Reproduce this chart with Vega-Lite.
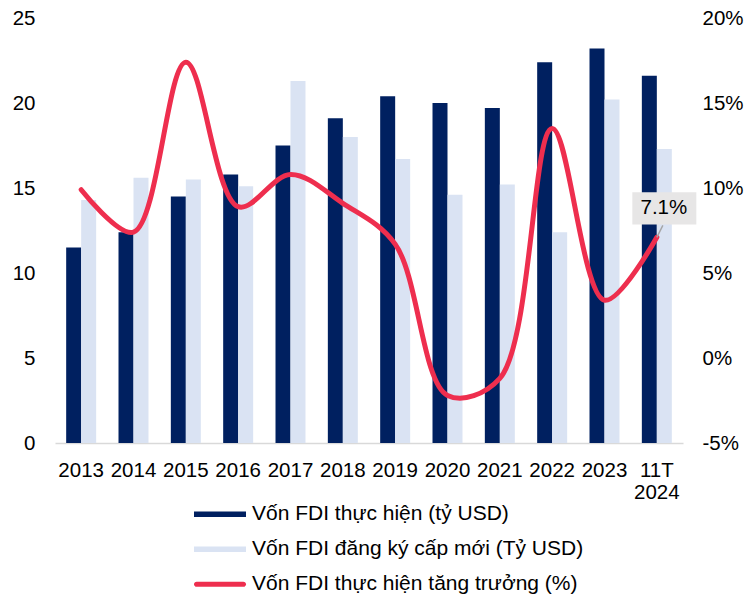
{
  "$schema": "https://vega.github.io/schema/vega-lite/v6.json",
  "width": 628,
  "height": 425,
  "autosize": {"type": "none"},
  "padding": {"left": 55, "top": 18, "right": 63, "bottom": 153},
  "background": "white",
  "config": {
    "font": "Liberation Sans",
    "view": {"stroke": null},
    "axis": {"labelFont": "Liberation Sans", "labelFontSize": 20.5, "labelColor": "#000000", "grid": false, "ticks": false, "domain": false}
  },
  "datasets": {
    "bars": [
      {"year": "2013", "series": "Vốn FDI thực hiện (tỷ USD)", "value": 11.5},
      {"year": "2013", "series": "Vốn FDI đăng ký cấp mới (Tỷ USD)", "value": 14.3},
      {"year": "2014", "series": "Vốn FDI thực hiện (tỷ USD)", "value": 12.4},
      {"year": "2014", "series": "Vốn FDI đăng ký cấp mới (Tỷ USD)", "value": 15.6},
      {"year": "2015", "series": "Vốn FDI thực hiện (tỷ USD)", "value": 14.5},
      {"year": "2015", "series": "Vốn FDI đăng ký cấp mới (Tỷ USD)", "value": 15.5},
      {"year": "2016", "series": "Vốn FDI thực hiện (tỷ USD)", "value": 15.8},
      {"year": "2016", "series": "Vốn FDI đăng ký cấp mới (Tỷ USD)", "value": 15.1},
      {"year": "2017", "series": "Vốn FDI thực hiện (tỷ USD)", "value": 17.5},
      {"year": "2017", "series": "Vốn FDI đăng ký cấp mới (Tỷ USD)", "value": 21.3},
      {"year": "2018", "series": "Vốn FDI thực hiện (tỷ USD)", "value": 19.1},
      {"year": "2018", "series": "Vốn FDI đăng ký cấp mới (Tỷ USD)", "value": 18.0},
      {"year": "2019", "series": "Vốn FDI thực hiện (tỷ USD)", "value": 20.4},
      {"year": "2019", "series": "Vốn FDI đăng ký cấp mới (Tỷ USD)", "value": 16.7},
      {"year": "2020", "series": "Vốn FDI thực hiện (tỷ USD)", "value": 20.0},
      {"year": "2020", "series": "Vốn FDI đăng ký cấp mới (Tỷ USD)", "value": 14.6},
      {"year": "2021", "series": "Vốn FDI thực hiện (tỷ USD)", "value": 19.7},
      {"year": "2021", "series": "Vốn FDI đăng ký cấp mới (Tỷ USD)", "value": 15.2},
      {"year": "2022", "series": "Vốn FDI thực hiện (tỷ USD)", "value": 22.4},
      {"year": "2022", "series": "Vốn FDI đăng ký cấp mới (Tỷ USD)", "value": 12.4},
      {"year": "2023", "series": "Vốn FDI thực hiện (tỷ USD)", "value": 23.2},
      {"year": "2023", "series": "Vốn FDI đăng ký cấp mới (Tỷ USD)", "value": 20.2},
      {"year": "11T 2024", "series": "Vốn FDI thực hiện (tỷ USD)", "value": 21.6},
      {"year": "11T 2024", "series": "Vốn FDI đăng ký cấp mới (Tỷ USD)", "value": 17.3}
    ],
    "growth": [
      {"year": "2013", "growth": 0.099},
      {"year": "2014", "growth": 0.074},
      {"year": "2015", "growth": 0.174},
      {"year": "2016", "growth": 0.089},
      {"year": "2017", "growth": 0.108},
      {"year": "2018", "growth": 0.091},
      {"year": "2019", "growth": 0.067},
      {"year": "2020", "growth": -0.022},
      {"year": "2021", "growth": -0.012},
      {"year": "2022", "growth": 0.135},
      {"year": "2023", "growth": 0.034},
      {"year": "11T 2024", "growth": 0.071}
    ]
  },
  "layer": [
    {
      "data": {"name": "bars"},
      "mark": {"type": "bar"},
      "encoding": {
        "x": {
          "field": "year", "type": "nominal", "sort": null,
          "scale": {"domain": ["2013","2014","2015","2016","2017","2018","2019","2020","2021","2022","2023","11T 2024"], "paddingInner": 0.427, "paddingOuter": 0.2135},
          "axis": {"title": null, "labelAngle": 0, "domain": true, "domainColor": "#d9d9d9", "domainWidth": 1.5, "labelPadding": 17, "labelBaseline": "top", "labelLineHeight": 22, "labelExpr": "datum.value === '11T 2024' ? ['11T', '2024'] : datum.value"}
        },
        "xOffset": {"field": "series", "type": "nominal", "sort": null, "scale": {"domain": ["Vốn FDI thực hiện (tỷ USD)", "Vốn FDI đăng ký cấp mới (Tỷ USD)"], "paddingInner": 0, "paddingOuter": 0}},
        "y": {
          "field": "value", "type": "quantitative",
          "scale": {"domain": [0, 25], "nice": false, "zero": true},
          "axis": {"title": null, "orient": "left", "values": [0,5,10,15,20,25], "labelPadding": 20}
        },
        "color": {
          "field": "series", "type": "nominal", "sort": null,
          "scale": {"domain": ["Vốn FDI thực hiện (tỷ USD)", "Vốn FDI đăng ký cấp mới (Tỷ USD)", "Vốn FDI thực hiện tăng trưởng (%)"], "range": ["#002060", "#dae3f3", "#ee2e4e"]},
          "legend": {
            "title": null, "orient": "none", "legendX": 139, "legendY": 479, "direction": "vertical",
            "symbolSize": 2704, "symbolStrokeWidth": 0,
            "labelFont": "Liberation Sans", "labelFontSize": 21, "labelColor": "#000000", "labelOffset": 6, "labelLimit": 600,
            "clipHeight": 34.5, "rowPadding": 0,
            "encode": {"symbols": {"update": {"shape": {"signal": "datum.index === 2 ? 'M-0.9,-0.1H0.9A0.1,0.1 0 0 1 0.9,0.1H-0.9A0.1,0.1 0 0 1 -0.9,-0.1Z' : 'M-1,-0.106H1V0.106H-1Z'"}}}}
          }
        }
      }
    },
    {
      "data": {"name": "growth"},
      "layer": [
        {
          "mark": {"type": "line", "interpolate": "catmull-rom", "strokeWidth": 5, "color": "#ee2e4e", "strokeCap": "round", "strokeJoin": "round"},
          "encoding": {
            "x": {"field": "year", "type": "nominal", "sort": null},
            "y": {
              "field": "growth", "type": "quantitative",
              "scale": {"domain": [-0.05, 0.2], "nice": false, "zero": false},
              "axis": {"title": null, "orient": "right", "values": [-0.05, 0, 0.05, 0.1, 0.15, 0.2], "format": ".0%", "labelExpr": "replace(datum.label, '−', '-')", "labelPadding": 19}
            }
          }
        },
        {
          "transform": [{"filter": "datum.year === '11T 2024'"}],
          "mark": {"type": "rule", "color": "#a6a6a6", "strokeWidth": 1.5, "x2Offset": 6},
          "encoding": {
            "x": {"field": "year", "type": "nominal", "sort": null},
            "x2": {"field": "year"},
            "y": {"field": "growth", "type": "quantitative", "title": null},
            "y2": {"datum": 0.078}
          }
        },
        {
          "transform": [{"filter": "datum.year === '11T 2024'"}],
          "mark": {"type": "bar", "color": "#e7e6e6", "width": 64, "xOffset": 7.5},
          "encoding": {
            "x": {"field": "year", "type": "nominal", "sort": null},
            "y": {"datum": 0.0975, "type": "quantitative", "title": null},
            "y2": {"datum": 0.0785}
          }
        },
        {
          "transform": [{"filter": "datum.year === '11T 2024'"}],
          "mark": {"type": "text", "font": "Liberation Sans", "fontSize": 20.5, "color": "#000000", "dx": 7, "dy": -29},
          "encoding": {
            "x": {"field": "year", "type": "nominal", "sort": null},
            "y": {"field": "growth", "type": "quantitative", "title": null},
            "text": {"field": "growth", "format": ".1%"}
          }
        }
      ]
    }
  ],
  "resolve": {"scale": {"y": "independent"}}
}
